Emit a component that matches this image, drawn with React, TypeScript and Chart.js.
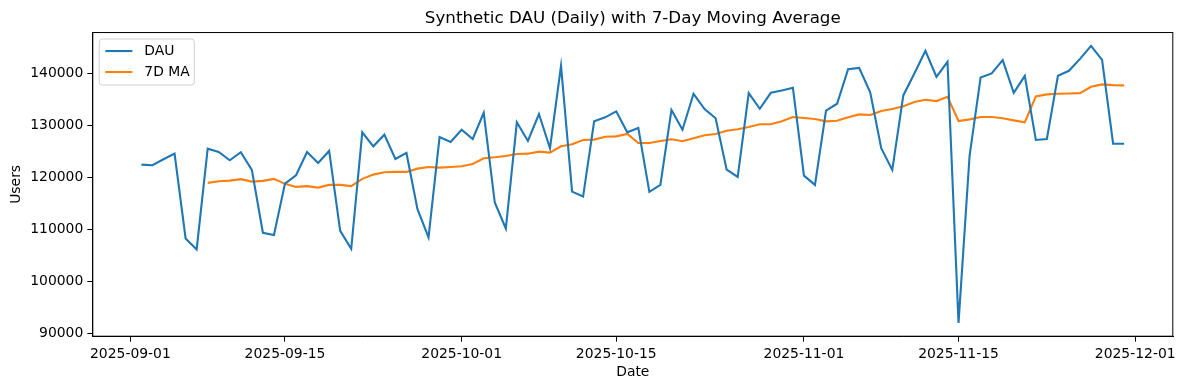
import React, { useEffect, useRef } from 'react';
import { Chart, registerables } from 'chart.js';

Chart.register(...registerables);

const FONT = '"DejaVu Sans", sans-serif';

const chartTitle = 'Synthetic DAU (Daily) with 7-Day Moving Average';
const startDate = '2025-09-02';

const dau = [
  122500, 122380, 123530, 124600, 108320, 106210, 125560, 124930, 123340, 124870,
  121480, 109410, 108970, 118860, 120460, 124930, 122820, 125120, 109790, 106340,
  128700, 126020, 128250, 123590, 124740, 113950, 108510, 127800, 126840, 129200,
  127420, 132460, 115220, 110230, 130620, 127040, 132210, 125640, 141460, 117320,
  116360, 130810, 131580, 132730, 128700, 129530, 117260, 118600, 132980, 129200,
  136100, 133170, 131390, 121540, 120140, 136230, 133230, 136290, 136750, 137250,
  120390, 118600, 132850, 134190, 140830, 141080, 136370, 125640, 121480, 135790,
  140010, 144340, 139360, 142230, 92110, 124200, 139240, 140010, 142560, 136290,
  139550, 127230, 127420, 139550, 140510, 142810, 145300, 142610, 126520, 126520,
];

const ma7 = [
  null, null, null, null, null, null,
  118990, 119310, 119430, 119700, 119240, 119370, 119760, 118800, 118220, 118360,
  118090, 118600, 118600, 118360, 119760, 120580, 121040, 121100, 121100, 121730,
  122050, 121920, 122050, 122190, 122630, 123720, 123910, 124160, 124540, 124600,
  124990, 124800, 126020, 126400, 127230, 127300, 127860, 127920, 128380, 126650,
  126650, 127040, 127360, 126980, 127550, 128130, 128380, 129010, 129280, 129720,
  130240, 130240, 130810, 131640, 131440, 131250, 130810, 130930, 131580, 132150,
  132020, 132790, 133170, 133690, 134510, 134950, 134700, 135530, 130870, 131190,
  131640, 131640, 131390, 131000, 130620, 135600, 135980, 136100, 136170, 136230,
  137440, 137900, 137770, 137710,
];

const xTickLabels = ['2025-09-01', '2025-09-15', '2025-10-01', '2025-10-15', '2025-11-01', '2025-11-15', '2025-12-01'];
const yTickValues = [90000, 100000, 110000, 120000, 130000, 140000];

const DAY = 86400000;
const dayNum = (s: string) => Date.parse(s + 'T00:00:00Z') / DAY;
const fmtDay = (d: number) => new Date(Math.round(d) * DAY).toISOString().slice(0, 10);

const x0 = dayNum(startDate);
const xs = dau.map((_, i) => x0 + i);
const xTickValues = xTickLabels.map(dayNum);

const frameAndLegend = {
  id: 'frameAndLegend',
  afterDatasetsDraw(chart: any) {
    const { ctx, chartArea } = chart;
    const { left, top, right, bottom } = chartArea;
    ctx.save();
    ctx.strokeStyle = '#000';
    ctx.lineWidth = 1;
    ctx.strokeRect(left + 0.5, top + 0.5, right - left - 1, bottom - top - 1);

    // legend
    const bx = left + 7, by = top + 7, bw = 95, bh = 46, r = 3;
    ctx.beginPath();
    ctx.moveTo(bx + r, by);
    ctx.lineTo(bx + bw - r, by);
    ctx.quadraticCurveTo(bx + bw, by, bx + bw, by + r);
    ctx.lineTo(bx + bw, by + bh - r);
    ctx.quadraticCurveTo(bx + bw, by + bh, bx + bw - r, by + bh);
    ctx.lineTo(bx + r, by + bh);
    ctx.quadraticCurveTo(bx, by + bh, bx, by + bh - r);
    ctx.lineTo(bx, by + r);
    ctx.quadraticCurveTo(bx, by, bx + r, by);
    ctx.closePath();
    ctx.fillStyle = 'rgba(255,255,255,0.8)';
    ctx.fill();
    ctx.strokeStyle = '#d0d0d0';
    ctx.lineWidth = 1;
    ctx.stroke();

    const items = chart.data.datasets.map((d: any) => ({ label: d.label, color: d.borderColor }));
    ctx.font = `13.9px ${FONT}`;
    ctx.textBaseline = 'middle';
    ctx.textAlign = 'left';
    items.forEach((it: any, i: number) => {
      const y = by + 12 + i * 21;
      ctx.strokeStyle = it.color;
      ctx.lineWidth = 2.1;
      ctx.beginPath();
      ctx.moveTo(bx + 6, y);
      ctx.lineTo(bx + 33, y);
      ctx.stroke();
      ctx.fillStyle = '#000';
      ctx.fillText(it.label, bx + 45, y);
    });
    ctx.restore();
  },
};

export default function App() {
  const ref = useRef<HTMLCanvasElement | null>(null);

  useEffect(() => {
    if (!ref.current) return;
    const lo = Math.min(...dau);
    const hi = Math.max(...dau);
    const yPad = (hi - lo) * 0.05;
    const xPad = (xs[xs.length - 1] - xs[0]) * 0.05;

    const tickFont = { family: FONT, size: 13.9 };
    const chart = new Chart(ref.current, {
      type: 'line',
      data: {
        datasets: [
          {
            label: 'DAU',
            data: xs.map((x, i) => ({ x, y: dau[i] })),
            borderColor: '#1f77b4',
            backgroundColor: '#1f77b4',
            borderWidth: 2.1,
            pointRadius: 0,
            tension: 0,
          },
          {
            label: '7D MA',
            data: xs.map((x, i) => ({ x, y: ma7[i] })),
            borderColor: '#ff7f0e',
            backgroundColor: '#ff7f0e',
            borderWidth: 2.1,
            pointRadius: 0,
            tension: 0,
            spanGaps: false,
          },
        ],
      },
      options: {
        animation: false,
        responsive: false,
        devicePixelRatio: 1,
        layout: { padding: { left: 0, right: 10.7, top: 0, bottom: 0 } },
        plugins: {
          legend: { display: false },
          tooltip: { enabled: false },
          title: {
            display: true,
            fullSize: false,
            text: chartTitle,
            color: '#000',
            font: { family: FONT, size: 16.7, weight: 'normal' },
            padding: { top: 9, bottom: 3 },
          },
        },
        scales: {
          x: {
            type: 'linear',
            min: xs[0] - xPad,
            max: xs[xs.length - 1] + xPad,
            afterBuildTicks: (s: any) => {
              s.ticks = xTickValues.map((v) => ({ value: v }));
            },
            afterFit: (s: any) => {
              s.height = 53.3;
            },
            ticks: {
              callback: (v: any) => fmtDay(Number(v)),
              color: '#000',
              font: tickFont,
              padding: 4,
              maxRotation: 0,
              autoSkip: false,
            },
            grid: { drawOnChartArea: false, drawTicks: true, tickLength: 5, color: '#000' },
            border: { display: true, color: '#000', width: 1 },
            title: { display: true, text: 'Date', color: '#000', font: tickFont, padding: { top: 0, bottom: 9 } },
          },
          y: {
            type: 'linear',
            min: lo - yPad,
            max: hi + yPad,
            afterBuildTicks: (s: any) => {
              s.ticks = yTickValues.map((v) => ({ value: v }));
            },
            afterFit: (s: any) => {
              s.width = 92.3;
            },
            ticks: {
              callback: (v: any) => String(v),
              color: '#000',
              font: tickFont,
              padding: 4,
            },
            grid: { drawOnChartArea: false, drawTicks: true, tickLength: 5, color: '#000' },
            border: { display: true, color: '#000', width: 1 },
            title: { display: true, text: 'Users', color: '#000', font: tickFont, padding: { top: 8, bottom: 0 } },
          },
        },
      },
      plugins: [frameAndLegend],
    } as any);
    return () => chart.destroy();
  }, []);

  return (
    <div style={{ position: 'absolute', left: 0, top: 0, width: 1184, height: 390, background: '#fff' }}>
      <canvas ref={ref} width={1184} height={390} style={{ display: 'block' }} />
    </div>
  );
}
